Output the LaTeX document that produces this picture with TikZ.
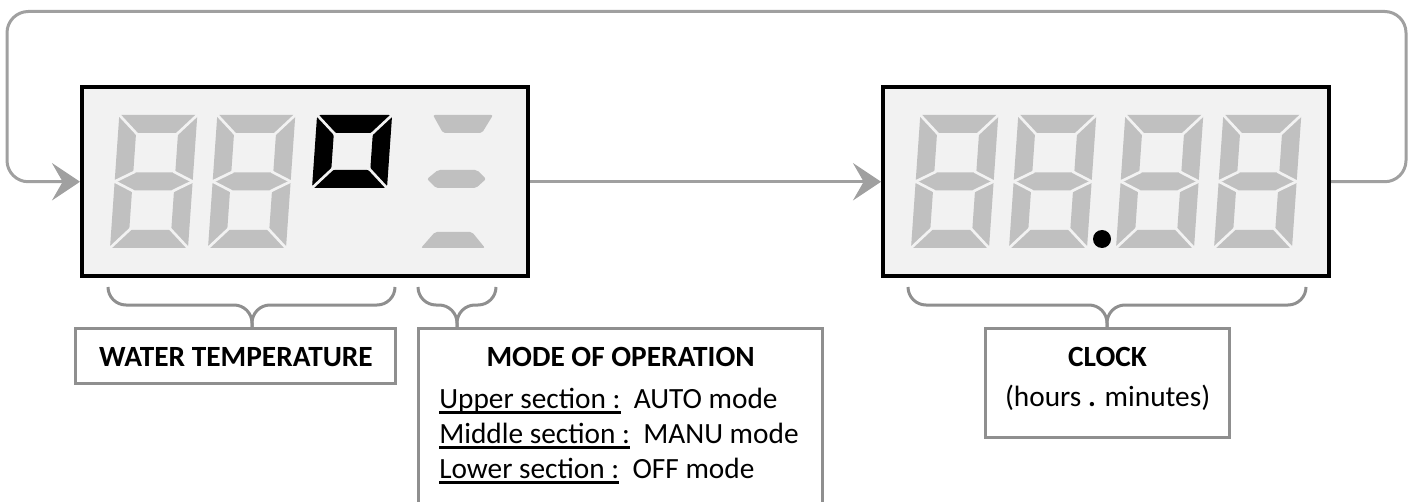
\documentclass[tikz,border=0pt]{standalone}
\usepackage{fontspec}
\setmainfont{Carlito}
\usetikzlibrary{arrows.meta}

\definecolor{loopgray}{HTML}{A0A0A0}
\definecolor{framegray}{HTML}{8F8F8F}
\definecolor{segoff}{HTML}{C0C0C0}
\definecolor{panel}{HTML}{F2F2F2}

\newcommand{\secline}[1]{\setbox0\hbox{#1}\rlap{\rule[-4pt]{\wd0}{2pt}}\box0}

\tikzset{
  display/.style={draw=black, line width=3pt, fill=panel, inner sep=0pt,
    minimum width=334.5pt, minimum height=141.5pt},
  labelbox/.style={draw=framegray, line width=2.25pt, fill=white, inner sep=0pt},
  labeltext/.style={inner sep=0pt, font=\fontsize{22pt}{26pt}\selectfont},
  flow/.style={draw=loopgray, line width=2.25pt,
    -{Stealth[length=21pt, width=28pt, inset=8pt]}},
  brace/.style={draw=framegray, line width=2.25pt, rounded corners=13.5pt},
  segcut/.style={draw=panel, line width=2pt, shorten <=-1.5pt, shorten >=-1.5pt},
  segdigit/.pic={
    \begin{scope}[fill=segoff, rounded corners=1.5pt]
      \fill (0,-133) -- (78,-133) -- (60,-115) -- (18,-115) -- cycle;
      \fill (78,-133) -- (78,-66.5) -- (60,-75.5) -- (60,-115) -- cycle;
      \fill (78,-66.5) -- (78,0) -- (60,-18) -- (60,-57.5) -- cycle;
      \fill (0,0) -- (78,0) -- (60,-18) -- (18,-18) -- cycle;
      \fill (0,0) -- (0,-66.5) -- (18,-57.5) -- (18,-18) -- cycle;
      \fill (0,-133) -- (0,-66.5) -- (18,-75.5) -- (18,-115) -- cycle;
      \fill (0,-66.5) -- (18,-75.5) -- (60,-75.5) -- (78,-66.5) -- (60,-57.5) -- (18,-57.5) -- cycle;
    \end{scope}
    \foreach \ax/\ay/\bx/\by in {0/-133/18/-115, 78/-133/60/-115, 0/0/18/-18, 78/0/60/-18,
        0/-66.5/18/-75.5, 0/-66.5/18/-57.5, 78/-66.5/60/-75.5, 78/-66.5/60/-57.5}
      \draw[segcut] (\ax,\ay) -- (\bx,\by);
  },
  degreebox/.pic={
    \begin{scope}[fill=black, rounded corners=2.5pt]
      \fill (0,-73) -- (75,-73) -- (57,-55) -- (18,-55) -- cycle;
      \fill (75,-73) -- (75,0) -- (57,-18) -- (57,-55) -- cycle;
      \fill (0,0) -- (75,0) -- (57,-18) -- (18,-18) -- cycle;
      \fill (0,-73) -- (0,0) -- (18,-18) -- (18,-55) -- cycle;
    \end{scope}
    \foreach \ax/\ay/\bx/\by in {0/-73/18/-55, 75/-73/57/-55, 0/0/18/-18, 75/0/57/-18}
      \draw[segcut] (\ax,\ay) -- (\bx,\by);
  }
}

\begin{document}
\begin{tikzpicture}[x=0.75pt, y=-0.75pt]
\useasboundingbox (0,0) rectangle (1413,502);

% displays
\node[display] (temp) at (305,181.75) {};
\node[display] (clock) at (1106,181.75) {};

% segments
\foreach \dx in {110,208,911,1009,1116,1214}
  \pic[xslant=0.07] at (\dx,248) {segdigit};
\pic[xslant=0.07] at (312,188) {degreebox};
\begin{scope}[fill=segoff, rounded corners=1.5pt]
  \fill (433,115) -- (493,115) -- (482,133) -- (443,133) -- cycle;
  \fill (427,179) -- (438,170) -- (477,170) -- (486,179) -- (476,188) -- (436,188) -- cycle;
  \fill (435,232) -- (472,232) -- (485,248) -- (421,248) -- cycle;
\end{scope}
\fill (1102,239) circle[radius=6.75pt];

% loop
\coordinate (loopNE) at (1406,11.5);
\coordinate (loopNW) at (7,11.5);
\draw[flow, rounded corners=16pt] (clock.east) -| (loopNE) -- (loopNW) |- (temp.west);
\draw[flow] (temp.east) -- (clock.west);

% labels
\node[labelbox, minimum width=240pt, minimum height=41.25pt] (templabel) at (235,356) {};
\node[labeltext, anchor=base] (temptext) at (236,366.7) {\textbf{WATER TEMPERATURE}};

\node[labelbox, minimum width=303pt, minimum height=150pt] (modelabel) at (620.6,428) {};
\node[labeltext, anchor=base] (modetitle) at (620.6,366.7) {\textbf{MODE OF OPERATION}};
\node[labeltext, anchor=base west] (modeupper) at (439,408.3) {\secline{Upper section :}\ \ AUTO mode};
\node[labeltext, anchor=base west] (modemiddle) at (439,443.3) {\secline{Middle section :}\ \ MANU mode};
\node[labeltext, anchor=base west] (modelower) at (439,478.3) {\secline{Lower section :}\ \ OFF mode};

\node[labelbox, minimum width=183.5pt, minimum height=81.6pt] (clocklabel) at (1107.6,383) {};
\node[labeltext, anchor=base] (clocktitle) at (1107.6,366.7) {\textbf{CLOCK}};
\node[labeltext, anchor=base] (clockunit) at (1107.6,406.7) {(hours \textbf{.} minutes)};

% braces
\coordinate (tempTip) at (252,327);
\coordinate (modeTip) at (457,327);
\coordinate (clockTip) at (1107,327);
\draw[brace] (108,287) |- (252,305) -- (tempTip);
\draw[brace] (395,287) |- (252,305) -- (tempTip);
\draw[brace] (418,287) |- (457,305) -- (modeTip);
\draw[brace] (496,287) |- (457,305) -- (modeTip);
\draw[brace] (908,287) |- (1107,305) -- (clockTip);
\draw[brace] (1306,287) |- (1107,305) -- (clockTip);
\end{tikzpicture}
\end{document}
